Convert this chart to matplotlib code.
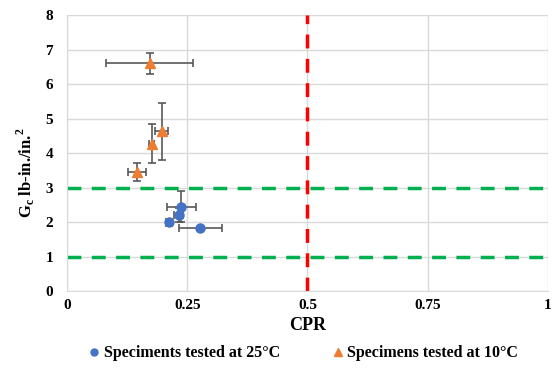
import matplotlib

matplotlib.use("Agg")
import matplotlib.pyplot as plt

# CPR / Gc values
cpr_25 = [0.238, 0.232, 0.213, 0.277]
gc_25 = [2.45, 2.2, 2.0, 1.82]
cpr_err_25 = [0.03, 0.01, 0.005, 0.045]
gc_err_25 = [0.45, 0.2, 0.1, 0.05]

cpr_10 = [0.172, 0.176, 0.197, 0.146]
gc_10 = [6.6, 4.27, 4.63, 3.45]
cpr_err_10 = [0.09, 0.005, 0.013, 0.019]
gc_err_10 = [0.3, 0.57, 0.82, 0.26]

x_ticks = [0, 0.25, 0.5, 0.75, 1]
x_tick_labels = ["0", "0.25", "0.5", "0.75", "1"]
y_ticks = [0, 1, 2, 3, 4, 5, 6, 7, 8]
gc_limits = [1, 3]
cpr_limit = 0.5
legend_labels = ["Speciments tested at 25°C", "Specimens tested at 10°C"]

plt.rcParams["font.family"] = ["Liberation Serif", "DejaVu Serif"]
plt.rcParams["font.weight"] = "bold"
plt.rcParams["mathtext.fontset"] = "custom"
plt.rcParams["mathtext.rm"] = "Liberation Serif:bold"
plt.rcParams["mathtext.bf"] = "Liberation Serif:bold"

fig = plt.figure(figsize=(5.53, 3.68), dpi=100)
ax = fig.add_axes([0.121, 0.209, 0.870, 0.75])

ax.set_xlim(0, 1)
ax.set_ylim(0, 8)
ax.set_xticks(x_ticks)
ax.set_xticklabels(x_tick_labels)
ax.set_yticks(y_ticks)
ax.grid(True, color="#d9d9d9", linewidth=1.0)
ax.set_axisbelow(True)
for side in ["top", "right"]:
    ax.spines[side].set_visible(False)
for side in ["left", "bottom"]:
    ax.spines[side].set_color("#d9d9d9")
ax.tick_params(axis="x", length=0, labelsize=11, pad=6)
ax.tick_params(axis="y", length=0, labelsize=11, pad=10)

for g in gc_limits:
    ax.axhline(g, color="#00b050", linewidth=2.5, linestyle=(0, (4, 3)), zorder=2)
ax.axvline(cpr_limit, color="#ff0000", linewidth=2.5, linestyle=(0, (4, 3)), zorder=2)

ax.errorbar(cpr_25, gc_25, xerr=cpr_err_25, yerr=gc_err_25, fmt="o",
            color="#4472c4", markersize=6.5, ecolor="#595959", elinewidth=1.2,
            capsize=3, capthick=1.2, zorder=3)
ax.errorbar(cpr_10, gc_10, xerr=cpr_err_10, yerr=gc_err_10, fmt="^",
            color="#ed7d31", markersize=7.5, ecolor="#595959", elinewidth=1.2,
            capsize=3, capthick=1.2, zorder=3)

ax.set_xlabel("CPR", fontsize=13, fontweight="bold", labelpad=3)
ax.set_ylabel("G$_{\\mathrm{c}}$ lb-in./in.$^{\\mathrm{2}}$", fontsize=12,
              fontweight="bold")
ax.yaxis.set_label_coords(-0.062, 0.43)

h25 = plt.Line2D([], [], marker="o", color="#4472c4", linestyle="", markersize=5)
h10 = plt.Line2D([], [], marker="^", color="#ed7d31", linestyle="", markersize=6)
fig.legend([h25, h10], legend_labels, loc="center", bbox_to_anchor=(0.545, 0.04),
           ncol=2, frameon=False, fontsize=11.5, handletextpad=0.0,
           columnspacing=3.0, handlelength=1.2)

fig.savefig("out.png", dpi=100)
